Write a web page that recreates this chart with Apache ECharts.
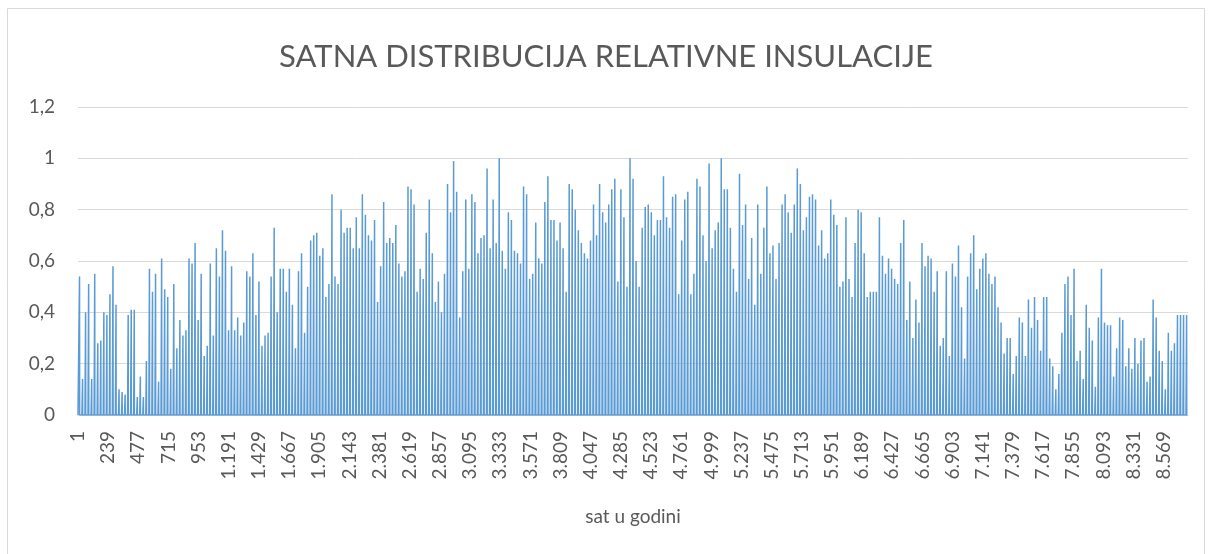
<!DOCTYPE html>
<html>
<head>
<meta charset="utf-8">
<script src="https://cdn.jsdelivr.net/npm/echarts@6.0.0/dist/echarts.min.js"></script>
<style>
  html, body { margin: 0; padding: 0; background: #fff; }
  #main { width: 1212px; height: 554px; }
</style>
</head>
<body>
<div id="main"></div>
<script>
// daily peak of relative insolation
const dailyPeaks = [
  0.54,0.14,0.40,0.51,0.14,0.55,0.28,0.29,0.40,0.39,0.47,0.58,0.43,0.10,0.09,0.08,0.39,0.41,0.41,0.07,
  0.15,0.07,0.21,0.57,0.48,0.55,0.13,0.61,0.49,0.46,0.18,0.51,0.26,0.37,0.31,0.33,0.61,
  0.59,0.67,0.37,0.55,0.23,0.27,0.59,0.31,0.65,0.54,0.72,0.64,0.33,0.58,0.33,0.38,0.31,0.36,0.56,0.54,
  0.63,0.39,0.52,0.27,0.31,0.32,0.54,0.73,0.40,0.57,0.57,0.48,0.57,0.43,0.26,0.56,0.63,
  0.32,0.50,0.68,0.70,0.71,0.62,0.65,0.46,0.51,0.86,0.54,0.51,0.80,0.71,0.73,0.73,0.65,0.77,0.65,0.86,
  0.78,0.70,0.68,0.76,0.44,0.58,0.83,0.67,0.69,0.67,0.74,0.59,0.54,0.56,0.89,0.88,0.82,
  0.48,0.57,0.53,0.71,0.84,0.63,0.44,0.52,0.40,0.55,0.90,0.79,0.99,0.87,0.38,0.56,0.84,0.57,0.86,0.83,
  0.63,0.69,0.70,0.96,0.65,0.84,0.67,1.00,0.64,0.57,0.79,0.76,0.64,0.63,0.59,0.89,0.86,
  0.53,0.55,0.75,0.61,0.59,0.83,0.93,0.76,0.76,0.68,0.75,0.65,0.48,0.90,0.88,0.80,0.72,0.67,0.63,0.61,
  0.68,0.82,0.70,0.90,0.79,0.75,0.82,0.88,0.92,0.52,0.88,0.77,0.50,1.00,0.92,0.60,
  0.50,0.73,0.81,0.82,0.79,0.70,0.76,0.76,0.93,0.77,0.73,0.85,0.86,0.47,0.68,0.84,0.87,0.47,0.55,0.92,
  0.89,0.70,0.60,0.98,0.65,0.72,0.75,1.00,0.88,0.88,0.73,0.57,0.48,0.94,0.74,0.82,0.53,
  0.69,0.43,0.82,0.55,0.73,0.89,0.63,0.66,0.53,0.67,0.82,0.86,0.79,0.71,0.82,0.96,0.90,0.72,0.77,0.85,
  0.86,0.84,0.66,0.72,0.61,0.63,0.84,0.78,0.74,0.50,0.52,0.77,0.53,0.46,0.67,0.80,0.79,
  0.63,0.46,0.48,0.48,0.48,0.77,0.62,0.55,0.61,0.57,0.53,0.51,0.67,0.76,0.37,0.52,0.30,0.45,0.36,0.67,
  0.58,0.62,0.61,0.48,0.56,0.27,0.30,0.56,0.23,0.59,0.54,0.66,0.42,0.22,0.54,0.63,
  0.70,0.49,0.57,0.61,0.63,0.55,0.51,0.54,0.42,0.36,0.24,0.30,0.30,0.16,0.23,0.38,0.36,0.23,0.45,0.34,
  0.46,0.37,0.25,0.46,0.46,0.22,0.19,0.10,0.16,0.32,0.51,0.54,0.39,0.57,0.21,0.25,
  0.14,0.43,0.34,0.29,0.11,0.38,0.57,0.36,0.35,0.35,0.15,0.26,0.38,0.37,0.19,0.26,0.18,0.30,0.20,0.29,
  0.30,0.13,0.15,0.45,0.38,0.25,0.21,0.10,0.32,0.25,0.28,0.39,0.39,0.39,0.39
];
const hoursInYear = 8760;
const peakHour = 12;
const yTicks = [0, 0.2, 0.4, 0.6, 0.8, 1, 1.2];

// hour-of-year categories and hourly values (night hours are 0)
const hours = [];
const hourly = [];
for (let h = 0; h < hoursInYear; h++) {
  hours.push(String(h + 1));
  hourly.push(0);
}
dailyPeaks.forEach(function (v, d) {
  const idx = d * 24 + peakHour;
  if (idx < hoursInYear) hourly[idx] = v;
});

function thousands(s) {
  return String(s).replace(/\B(?=(\d{3})+(?!\d))/g, '.');
}

const chart = echarts.init(document.getElementById('main'), null, { renderer: 'canvas' });
chart.setOption({
  animation: false,
  backgroundColor: '#fff',
  textStyle: { fontFamily: 'Lato' },
  title: {
    text: 'SATNA DISTRIBUCIJA RELATIVNE INSULACIJE',
    left: 'center',
    top: 36,
    textStyle: { fontSize: 31, fontWeight: 'normal', color: '#595959', fontFamily: 'Lato' }
  },
  graphic: [{
    type: 'rect',
    shape: { x: 7.5, y: 8.5, width: 1197, height: 560, r: 0 },
    style: { fill: 'none', stroke: '#d9d9d9', lineWidth: 1 },
    silent: true
  }],
  grid: { left: 78, right: 24, top: 107, bottom: 139, outerBoundsMode: 'none' },
  xAxis: {
    type: 'category',
    data: hours,
    boundaryGap: false,
    name: 'sat u godini',
    nameLocation: 'middle',
    nameGap: 92,
    nameTextStyle: { fontSize: 19, color: '#595959' },
    axisLine: { lineStyle: { color: '#d9d9d9' } },
    axisTick: { show: false },
    axisLabel: {
      interval: 237,
      rotate: 90,
      margin: 16,
      fontSize: 19,
      color: '#595959',
      formatter: thousands
    },
    splitLine: { show: false }
  },
  yAxis: {
    type: 'value',
    min: yTicks[0],
    max: yTicks[yTicks.length - 1],
    interval: 0.2,
    axisLine: { show: false },
    axisTick: { show: false },
    axisLabel: {
      margin: 23,
      fontSize: 19,
      color: '#595959',
      formatter: function (v) { return String(Math.round(v * 10) / 10).replace('.', ','); }
    },
    splitLine: { lineStyle: { color: '#d9d9d9', width: 1 } }
  },
  series: [{
    name: 'relativna insulacija',
    type: 'line',
    data: hourly,
    showSymbol: false,
    symbol: 'none',
    lineStyle: { color: '#5b9bd5', width: 1.5 },
    itemStyle: { color: '#5b9bd5' }
  }]
});
</script>
</body>
</html>
